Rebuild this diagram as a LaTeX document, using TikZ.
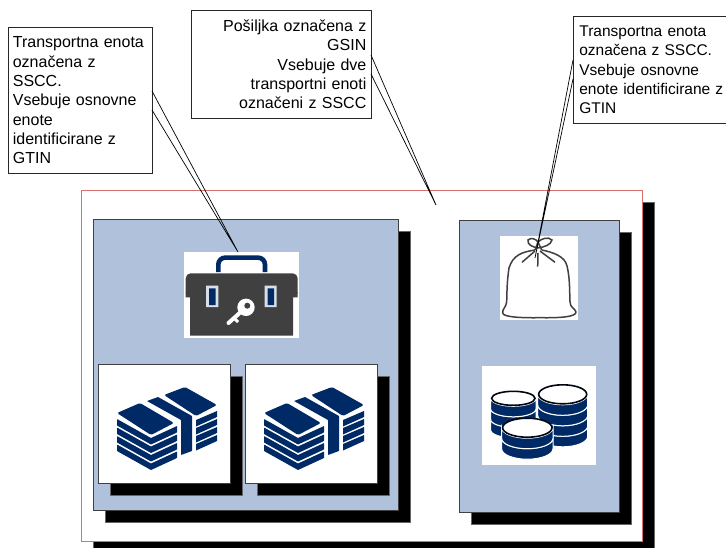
\documentclass[tikz,border=0pt]{standalone}
\usepackage{fontspec}
\setmainfont{Liberation Sans}
\usetikzlibrary{shadows}
\definecolor{panelblue}{HTML}{B0C2DB}
\definecolor{navy}{HTML}{002A66}
\definecolor{darkcase}{HTML}{404040}
\definecolor{framered}{HTML}{D9716F}
\newcommand{\coinstack}[5]{% cx, cy, rx, ry, layers
  \foreach \k in {#5,...,0} {
    \pgfmathsetmacro{\t}{#2+10.5*\k}
    \draw[fill=navy, draw=white, line width=1pt] (#1-#3,\t) -- (#1-#3,\t+10.5) arc[start angle=180, end angle=0, x radius=#3, y radius=#4] -- (#1+#3,\t) arc[start angle=0, end angle=180, x radius=#3, y radius=#4] -- cycle;
  }
  \draw[fill=white, draw=black!85!navy, line width=1.6pt] (#1,#2) ellipse[x radius=#3-1, y radius=#4-1];
}
\tikzset{
  notebox/.style={draw=black!85, fill=white, line width=0.7pt, anchor=north west, inner sep=0pt, font=\fontsize{16}{19.3}\selectfont},
  pointer/.style={black, line width=0.7pt},
  dropped/.style={copy shadow={shadow xshift=12pt, shadow yshift=-12pt, fill=black, draw=black!60}},
  framebox/.style={draw=framered, fill=white, line width=0.8pt, anchor=north west, inner sep=0pt},
  bluebox/.style={draw=darkcase, fill=panelblue, line width=0.7pt, anchor=north west, inner sep=0pt},
  whitebox/.style={draw=darkcase, fill=white, line width=0.7pt, anchor=north west, inner sep=0pt},
  plainbox/.style={fill=white, anchor=north west, inner sep=0pt},
  pics/stackicon/.style={code={
    \fill[navy, rounded corners=1.5pt] (19,49) -- (42,39) -- (76,59) -- (53,71) -- cycle;
    \fill[navy, rounded corners=1.5pt] (66,31) -- (87,23) -- (119,41) -- (98,52) -- cycle;
    \fill[navy, rounded corners=0.5pt] (49,37) -- (60,33) -- (94,52) -- (94,87) -- (83,91) -- (83,56) -- cycle;
    \foreach \k in {0,...,3} {
      \fill[navy, rounded corners=0.5pt] (19,55+8.5*\k) -- (53,74+8.5*\k) -- (79,62+8.5*\k) -- (79,68.5+8.5*\k) -- (53,80.5+8.5*\k) -- (19,61.5+8.5*\k) -- cycle;
      \fill[navy] (98,56+8*\k) -- (119,47+8*\k) -- (119,53+8*\k) -- (98,62.5+8*\k) -- cycle;
    }
  }},
  pics/caseicon/.style={code={
    \draw[navy, line width=4.6pt, rounded corners=7pt] (34.3,20) -- (34.3,5.6) -- (81,5.6) -- (81,20);
    \fill[darkcase, rounded corners=5pt] (1.7,45.3) -- (1.7,21.3) -- (113.7,21.3) -- (113.7,45.3) -- cycle;
    \fill[darkcase] (1.7,40) -- (1.7,45.3) -- (6,45.3) -- (6,83.7) -- (109,83.7) -- (109,45.3) -- (113.7,45.3) -- (113.7,40) -- cycle;
    \fill[white!85!navy] (22,33.7) rectangle (34.3,55) (80.7,33.7) rectangle (92.7,55);
    \fill[navy] (25,36.3) rectangle (31.7,53) (83.7,36.3) rectangle (90,53);
    \draw[white, line width=4pt, line cap=round] (62,55.3) -- (44.5,71);
    \draw[white, line width=3pt] (50,66) -- (54,70);
    \fill[white] (62,55.3) circle[radius=8.7];
    \fill[darkcase] (63.3,53.7) circle[radius=3];
  }},
  pics/bagicon/.style={code={
    \draw[black!75, line width=1.5pt, line join=round] (35,14) .. controls (22,16) and (13,19) .. (9,32) .. controls (7,45) and (7,55) .. (6.7,65.7) .. controls (6,72) and (2,73) .. (2.7,77) .. controls (3,81) and (20,82) .. (40,81.7) .. controls (60,82) and (76,81) .. (76,76) .. controls (75,72) and (70,72) .. (70,65.7) .. controls (69.5,55) and (70,42) .. (67,30) .. controls (65,20) and (52,16) .. (41.7,14);
    \draw[black!75, line width=1.5pt] (35,15) -- (22,26.3) (40,15) -- (55,26.3) (38,17) -- (37.7,30.7);
    \draw[black!75, line width=1.5pt] (38,12) .. controls (33,11) and (27,9) .. (28,4) .. controls (31,1) and (36,3) .. (38,6) .. controls (41,3) and (48,0) .. (52,4) .. controls (51,9) and (44,11) .. (38,12);
    \draw[black!75, line width=1.5pt] (38,6) -- (35,14) (38,6) -- (41.7,14);
  }},
  pics/coinicon/.style={code={
    \coinstack{31.3}{32.3}{22.7}{8}{2}
    \coinstack{80.7}{28.3}{25}{10.5}{3}
    \coinstack{45.3}{61.7}{25.7}{10.5}{1}
  }},
}
\begin{document}
\begin{tikzpicture}[x=1pt, y=-1pt]
\useasboundingbox (0,0) rectangle (726,547);
\node[framebox, dropped, minimum width=561pt, minimum height=351pt] (Frame) at (81,190) {};
\node[bluebox, dropped, minimum width=305.5pt, minimum height=291pt] (Blue_L) at (92.5,219) {};
\node[bluebox, dropped, minimum width=160.5pt, minimum height=292pt] (Blue_R) at (458.5,220) {};
\node[plainbox, minimum width=115pt, minimum height=86pt] (Case) at (184,252) {};
\pic at (Case.north west) {caseicon};
\node[whitebox, dropped, minimum width=132pt, minimum height=119pt] (Stack_1) at (98,364) {};
\pic at (Stack_1.north west) {stackicon};
\node[whitebox, dropped, minimum width=132pt, minimum height=119pt] (Stack_2) at (245,364) {};
\pic at (Stack_2.north west) {stackicon};
\node[plainbox, minimum width=78pt, minimum height=84pt] (Bag) at (500,236) {};
\pic at (Bag.north west) {bagicon};
\node[plainbox, minimum width=114pt, minimum height=99pt] (Coins) at (482,366) {};
\pic at (Coins.north west) {coinicon};
% notes
\node[notebox, minimum width=144pt, minimum height=146pt, text width=135pt, align=left] (Note_L) at (8,27) {Transportna enota\\označena z\\SSCC.\\Vsebuje osnovne\\enote\\identificirane z\\GTIN};
\node[notebox, minimum width=180pt, minimum height=108pt, text width=170pt, align=right] (Note_M) at (191,10) {Pošiljka označena z\\GSIN\\Vsebuje dve\\transportni enoti\\označeni z SSCC};
\node[notebox, minimum width=170pt, minimum height=107pt, text width=158pt, align=left, font=\fontsize{15.5}{19.3}\selectfont] (Note_R) at (573,16) {Transportna enota\\označena z SSCC.\\Vsebuje osnovne\\enote identificirane z\\GTIN};
% pointers
\coordinate (Tip_L) at (238,252);
\coordinate (Tip_M) at (436,205);
\coordinate (Tip_R) at (535,258);
\coordinate (Start_L1) at (152,91);
\coordinate (Start_L2) at (152,110);
\coordinate (Start_M1) at (371,55);
\coordinate (Start_M2) at (371,74);
\coordinate (Start_R1) at (573,60);
\coordinate (Start_R2) at (573,79);
\draw[pointer] (Start_L1) -- (Tip_L) -- (Start_L2);
\draw[pointer] (Start_M1) -- (Tip_M) -- (Start_M2);
\draw[pointer] (Start_R1) -- (Tip_R) -- (Start_R2);
\end{tikzpicture}
\end{document}
